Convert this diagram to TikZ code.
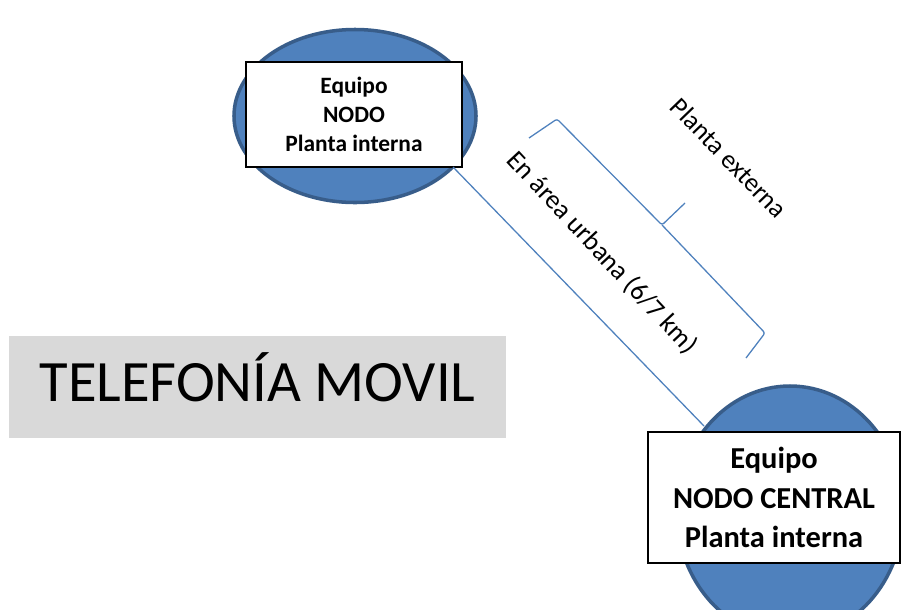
\documentclass[tikz,border=0pt]{standalone}
\usepackage{fontspec}
\setmainfont{Carlito}
\usepackage{tikz}
\usetikzlibrary{shapes.geometric}
\definecolor{azul}{HTML}{4F81BD}
\definecolor{azulborde}{HTML}{385D8A}
\definecolor{gris}{HTML}{D9D9D9}

\begin{document}
\begin{tikzpicture}[x=0.03cm,y=-0.03cm,
  every node/.style={outer sep=0pt, inner sep=0pt},
  elipse/.style={ellipse, fill=azul, draw=azulborde, line width=3pt},
  caja/.style={rectangle, fill=white, draw=black, line width=1.2pt, align=center},
  linea/.style={draw=azul, line width=1.1pt}]
\useasboundingbox (0,0) rectangle (901,609);
\clip (0,0) rectangle (901,609);

\node[fill=gris, minimum width=14.91cm, minimum height=3.06cm, text height=36pt, text depth=12pt, font=\fontsize{50}{60}\selectfont] (titulo) at (257.5,387) {TELEFONÍA MOVIL};

\node[elipse, minimum width=7.26cm, minimum height=5.19cm] (elipseNodo) at (355,116) {};
\node[caja, minimum width=6.48cm, minimum height=3.15cm, font=\fontsize{20}{25}\selectfont\bfseries] (cajaNodo) at (354,114.5) {Equipo\\NODO\\Planta interna};

\draw[linea] ([xshift=-0.27cm]cajaNodo.south east) -- (704,426) coordinate (fin);

\node[elipse, minimum width=6.78cm, minimum height=7.56cm] (elipseCentral) at (790,512) {};
\node[caja, minimum width=7.56cm, minimum height=3.93cm, font=\fontsize{26}{34}\selectfont\bfseries] (cajaCentral) at (774,497.5) {Equipo\\NODO CENTRAL\\Planta interna};

\node[rotate=-46, font=\fontsize{22.5}{27}\selectfont] (externa) at (729,158) {Planta externa};
\node[rotate=-47, font=\fontsize{23}{27}\selectfont] (urbana) at (602,253) {En área urbana (6/7 km)};

\draw[linea, rounded corners=2pt] (529,138) -- (557,119) -- (662,225) -- (685,203);
\draw[linea, rounded corners=2pt] (662,225) -- (765,333) -- (746,358);
\end{tikzpicture}
\end{document}
